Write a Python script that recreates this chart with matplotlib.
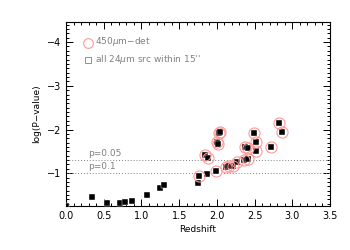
import matplotlib
matplotlib.use("Agg")
import matplotlib.pyplot as plt
from matplotlib.ticker import MultipleLocator
import numpy as np

# all 24um sources within 15''
z_all = [0.0, 0.34, 0.54, 0.72, 0.78, 0.87, 1.08, 1.25, 1.30,
         1.746, 1.763, 1.873, 1.843, 1.887, 1.993, 2.006, 2.019, 2.024, 2.04,
         2.117, 2.165, 2.218, 2.263, 2.364, 2.417, 2.373, 2.408, 2.488, 2.515,
         2.519, 2.714, 2.87, 2.83]
logp_all = [-0.25, -0.45, -0.31, -0.33, -0.34, -0.37, -0.50, -0.66, -0.74,
            -0.785, -0.945, -0.977, -1.42, -1.357, -1.06, -1.72, -1.677, -1.915, -1.94,
            -1.151, -1.16, -1.16, -1.265, -1.297, -1.334, -1.609, -1.572, -1.915, -1.709,
            -1.503, -1.595, -1.938, -2.15]
# 450um detected subset
z_450 = [1.763, 1.843, 1.887, 1.993, 2.006, 2.019, 2.024, 2.04,
         2.117, 2.165, 2.218, 2.263, 2.364, 2.417, 2.373, 2.408, 2.488, 2.515,
         2.519, 2.714, 2.87, 2.83]
logp_450 = [-0.945, -1.42, -1.357, -1.06, -1.72, -1.677, -1.915, -1.94,
            -1.151, -1.16, -1.16, -1.265, -1.297, -1.334, -1.609, -1.572, -1.915, -1.709,
            -1.503, -1.595, -1.938, -2.15]
p_levels = [0.05, 0.1]
p_labels = ["p=0.05", "p=0.1"]

fig = plt.figure(figsize=(3.5, 2.5), dpi=100)
ax = fig.add_axes([0.1886, 0.176, 0.7543, 0.736])

grey = "#808080"
pink = "#ff9999"

for p, lab in zip(p_levels, p_labels):
    ly = np.log10(p)
    ax.axhline(ly, color=grey, ls=(0, (1, 2)), lw=0.7)
    ax.text(0.29, ly - 0.16, lab, color=grey, fontsize=6.5, va="center", ha="left")

ax.plot(z_all, logp_all, "s", color="black", markersize=3.8, mec="white", mew=0.3, zorder=3)
ax.plot(z_450, logp_450, "o", mfc="none", mec=pink, markersize=8, mew=0.8, zorder=4)

# legend
ax.plot([0.29], [-3.98], "o", mfc="none", mec=pink, markersize=7, mew=0.8)
ax.text(0.39, -4.02, "450$\\mu$m\u2212det", color=grey, fontsize=6.5, va="center", ha="left")
ax.plot([0.29], [-3.6], "s", mfc="none", mec=grey, markersize=5, mew=0.6)
ax.text(0.39, -3.6, "all 24$\\mu$m src within 15''", color=grey, fontsize=6.5, va="center", ha="left")

ax.set_xlim(0, 3.5)
ax.set_ylim(-0.25, -4.46)
ax.xaxis.set_major_locator(MultipleLocator(0.5))
ax.xaxis.set_minor_locator(MultipleLocator(0.1))
ax.yaxis.set_major_locator(MultipleLocator(1))
ax.yaxis.set_minor_locator(MultipleLocator(0.1))
ax.xaxis.set_major_formatter(matplotlib.ticker.FormatStrFormatter("%.1f"))
ax.yaxis.set_major_formatter(matplotlib.ticker.FuncFormatter(lambda v, p: "\u2212%d" % abs(round(v))))
ax.tick_params(which="both", direction="in", top=True, right=True, labelsize=7, width=0.7)
ax.tick_params(which="major", length=5)
ax.tick_params(which="minor", length=2.5)
for s in ax.spines.values():
    s.set_linewidth(0.8)
ax.set_xlabel("Redshift", fontsize=6.5, labelpad=3)
ax.set_ylabel("log(P\u2212value)", fontsize=6.5, labelpad=4)

fig.savefig("out.png", dpi=100)
